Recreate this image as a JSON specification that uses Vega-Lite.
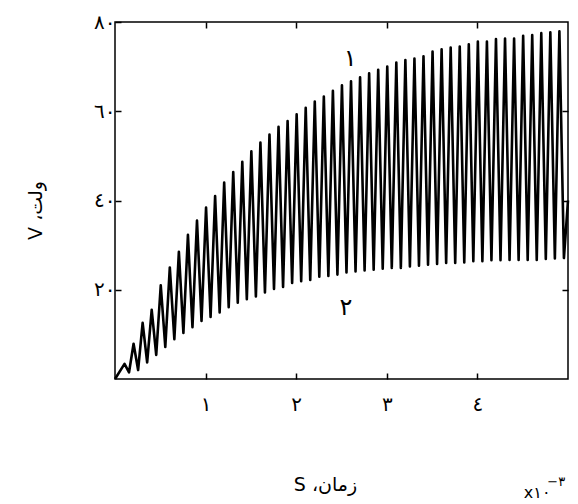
{
  "$schema": "https://vega.github.io/schema/vega-lite/v6.json",
  "width": 453,
  "height": 357,
  "autosize": {"type": "none"},
  "padding": {"left": 115, "top": 22, "right": 10, "bottom": 125},
  "background": "white",
  "config": {
    "view": {"stroke": "black", "strokeWidth": 1.5},
    "axis": {
      "domain": false, "grid": false, "tickColor": "black", "tickWidth": 1.5, "tickSize": -6,
      "labelColor": "black", "titleColor": "black", "labelFont": "DejaVu Sans", "titleFont": "DejaVu Sans",
      "labelFontSize": 20, "titleFontSize": 19, "titleFontWeight": "normal"
    }
  },
  "datasets": {
    "wave": [
      {"t": 0, "v": 0},
      {"t": 0.105, "v": 3.4}, {"t": 0.155, "v": 1.5},
      {"t": 0.205, "v": 7.9}, {"t": 0.255, "v": 2.0},
      {"t": 0.305, "v": 12.6}, {"t": 0.355, "v": 3.7},
      {"t": 0.405, "v": 15.5}, {"t": 0.455, "v": 5.4},
      {"t": 0.505, "v": 21.0}, {"t": 0.555, "v": 7.2},
      {"t": 0.605, "v": 25.0}, {"t": 0.655, "v": 8.9},
      {"t": 0.705, "v": 28.5}, {"t": 0.755, "v": 10.3},
      {"t": 0.805, "v": 32.3}, {"t": 0.855, "v": 11.6},
      {"t": 0.905, "v": 35.5}, {"t": 0.955, "v": 13.0},
      {"t": 1.005, "v": 38.4}, {"t": 1.055, "v": 13.9},
      {"t": 1.105, "v": 41.0}, {"t": 1.155, "v": 14.9},
      {"t": 1.205, "v": 44.0}, {"t": 1.255, "v": 16.1},
      {"t": 1.305, "v": 46.4}, {"t": 1.355, "v": 17.1},
      {"t": 1.405, "v": 48.7}, {"t": 1.455, "v": 17.9},
      {"t": 1.505, "v": 51.0}, {"t": 1.555, "v": 18.5},
      {"t": 1.605, "v": 53.0}, {"t": 1.655, "v": 19.4},
      {"t": 1.705, "v": 54.8}, {"t": 1.755, "v": 20.2},
      {"t": 1.805, "v": 56.5}, {"t": 1.855, "v": 20.6},
      {"t": 1.905, "v": 57.8}, {"t": 1.955, "v": 21.5},
      {"t": 2.005, "v": 59.3}, {"t": 2.055, "v": 21.9},
      {"t": 2.105, "v": 60.8}, {"t": 2.155, "v": 22.2},
      {"t": 2.205, "v": 62.2}, {"t": 2.255, "v": 22.9},
      {"t": 2.305, "v": 63.3}, {"t": 2.355, "v": 23.1},
      {"t": 2.405, "v": 64.6}, {"t": 2.455, "v": 23.4},
      {"t": 2.505, "v": 65.8}, {"t": 2.555, "v": 23.9},
      {"t": 2.605, "v": 66.7}, {"t": 2.655, "v": 24.1},
      {"t": 2.705, "v": 67.6}, {"t": 2.755, "v": 24.3},
      {"t": 2.805, "v": 68.5}, {"t": 2.855, "v": 24.5},
      {"t": 2.905, "v": 69.3}, {"t": 2.955, "v": 24.7},
      {"t": 3.005, "v": 70.0}, {"t": 3.055, "v": 24.9},
      {"t": 3.105, "v": 70.9}, {"t": 3.155, "v": 24.9},
      {"t": 3.205, "v": 71.5}, {"t": 3.255, "v": 25.2},
      {"t": 3.305, "v": 71.8}, {"t": 3.355, "v": 25.4},
      {"t": 3.405, "v": 72.3}, {"t": 3.455, "v": 25.6},
      {"t": 3.505, "v": 73.4}, {"t": 3.555, "v": 25.8},
      {"t": 3.605, "v": 73.9}, {"t": 3.655, "v": 26.0},
      {"t": 3.705, "v": 74.3}, {"t": 3.755, "v": 26.0},
      {"t": 3.805, "v": 74.5}, {"t": 3.855, "v": 26.1},
      {"t": 3.905, "v": 75.0}, {"t": 3.955, "v": 26.4},
      {"t": 4.005, "v": 75.6}, {"t": 4.055, "v": 26.4},
      {"t": 4.105, "v": 75.6}, {"t": 4.155, "v": 26.6},
      {"t": 4.205, "v": 76.2}, {"t": 4.255, "v": 26.6},
      {"t": 4.305, "v": 76.3}, {"t": 4.355, "v": 26.7},
      {"t": 4.405, "v": 76.3}, {"t": 4.455, "v": 26.7},
      {"t": 4.505, "v": 76.9}, {"t": 4.555, "v": 26.7},
      {"t": 4.605, "v": 77.1}, {"t": 4.655, "v": 26.7},
      {"t": 4.705, "v": 77.5}, {"t": 4.755, "v": 26.9},
      {"t": 4.805, "v": 77.7}, {"t": 4.855, "v": 27.0},
      {"t": 4.905, "v": 77.9}, {"t": 4.955, "v": 27.1},
      {"t": 5.0, "v": 40.0}
    ],
    "notes": [
      {"kind": "curve", "x": 2.596, "y": 71.7, "label": "١"},
      {"kind": "curve", "x": 2.55, "y": 15.9, "label": "٢"},
      {"kind": "unit", "x": 4.66, "y": -25.5, "label": "x١٠"},
      {"kind": "exp", "x": 4.87, "y": -23, "label": "−٣"}
    ]
  },
  "layer": [
    {
      "data": {"name": "wave"},
      "mark": {"type": "line", "interpolate": "linear", "color": "black", "strokeWidth": 2.6, "strokeJoin": "round"},
      "encoding": {
        "x": {
          "field": "t", "type": "quantitative",
          "scale": {"domain": [0, 5], "nice": false, "zero": false},
          "axis": {
            "orient": "bottom", "values": [1, 2, 3, 4],
            "labelExpr": "datum.value == 1 ? '١' : datum.value == 2 ? '٢' : datum.value == 3 ? '٣' : '٤'",
            "labelPadding": 21,
            "title": "S ،زمان", "titleX": 210, "titleY": 105, "titleBaseline": "middle", "titleAlign": "center"
          }
        },
        "y": {
          "field": "v", "type": "quantitative",
          "scale": {"domain": [0, 80], "nice": false},
          "axis": {
            "orient": "left", "values": [20, 40, 60, 80],
            "labelExpr": "datum.value == 20 ? '٢٠' : datum.value == 40 ? '٤٠' : datum.value == 60 ? '٦٠' : '٨٠'",
            "labelPadding": 6,
            "title": "V ،ولت", "titleX": -80, "titleY": 188, "titleBaseline": "middle", "titleAlign": "center"
          }
        }
      }
    },
    {
      "data": {"name": "notes"},
      "transform": [{"filter": "datum.kind == 'curve'"}],
      "mark": {"type": "text", "font": "DejaVu Sans", "fontSize": 24, "color": "black", "align": "center", "baseline": "middle"},
      "encoding": {
        "x": {"field": "x", "type": "quantitative", "axis": {"orient": "top", "values": [1, 2, 3, 4], "labels": false, "title": null}},
        "y": {"field": "y", "type": "quantitative", "axis": {"orient": "right", "values": [20, 40, 60], "labels": false, "title": null}},
        "text": {"field": "label"}
      }
    },
    {
      "data": {"name": "notes"},
      "transform": [{"filter": "datum.kind == 'unit'"}],
      "mark": {"type": "text", "font": "DejaVu Sans", "fontSize": 16, "color": "black", "align": "center", "baseline": "middle"},
      "encoding": {
        "x": {"field": "x", "type": "quantitative", "axis": null},
        "y": {"field": "y", "type": "quantitative", "axis": null},
        "text": {"field": "label"}
      }
    },
    {
      "data": {"name": "notes"},
      "transform": [{"filter": "datum.kind == 'exp'"}],
      "mark": {"type": "text", "font": "DejaVu Sans", "fontSize": 13, "color": "black", "align": "center", "baseline": "middle"},
      "encoding": {
        "x": {"field": "x", "type": "quantitative", "axis": null},
        "y": {"field": "y", "type": "quantitative", "axis": null},
        "text": {"field": "label"}
      }
    }
  ],
  "resolve": {"axis": {"x": "independent", "y": "independent"}}
}
